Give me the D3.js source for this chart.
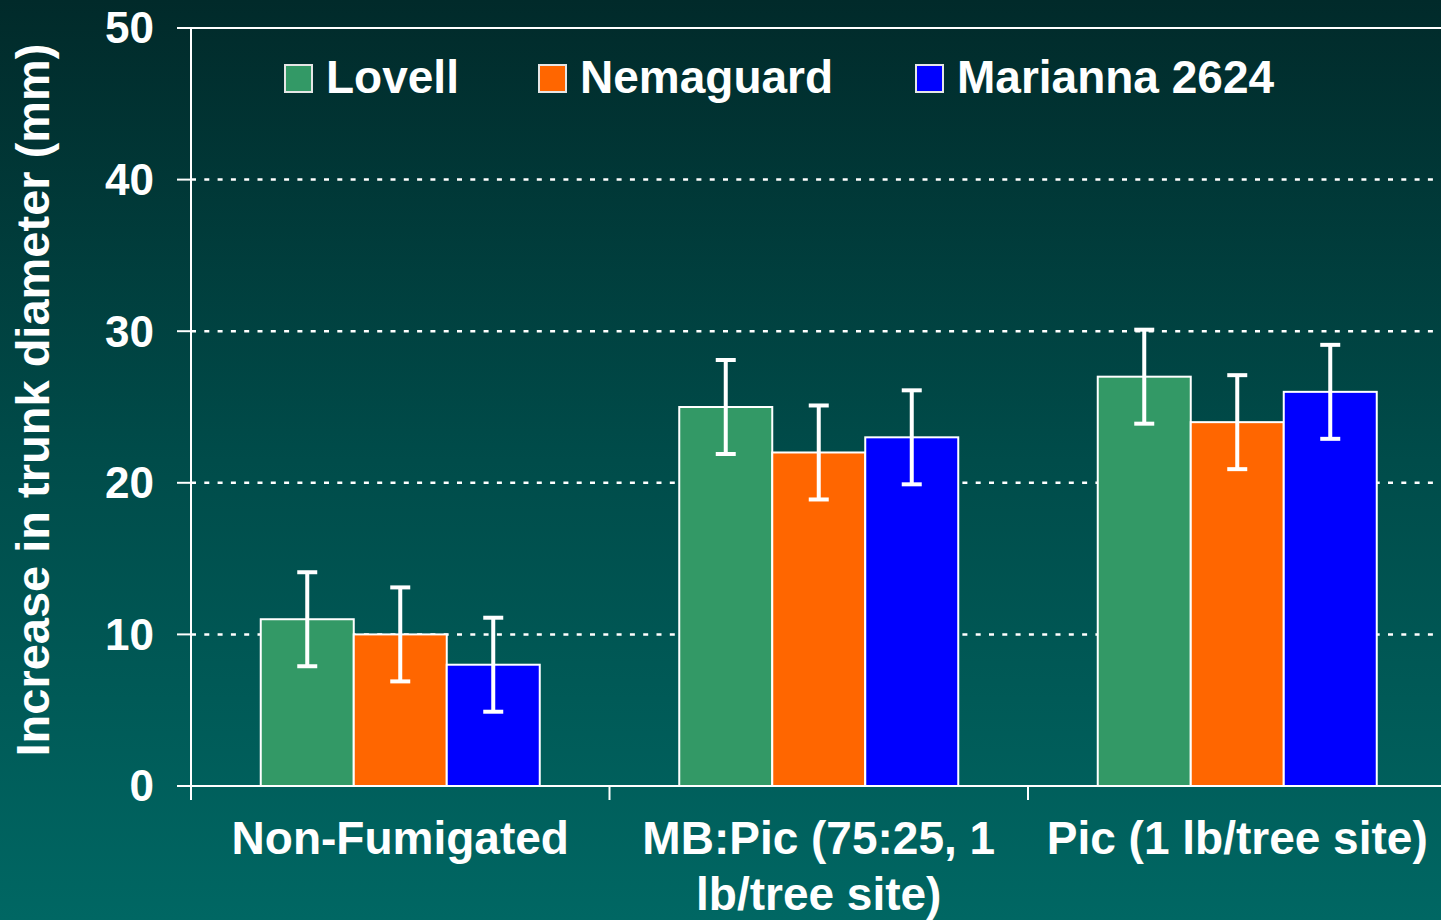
<!DOCTYPE html>
<html>
<head>
<meta charset="utf-8">
<script src="https://cdn.jsdelivr.net/npm/d3@7"></script>
<style>
  html, body { margin: 0; padding: 0; }
  svg { display: block; font-family: Arial, "Liberation Sans", sans-serif; font-weight: bold; }
</style>
</head>
<body>
<svg id="chart" width="1441" height="920"></svg>
<script>
// data
const categories = ["Non-Fumigated", "MB:Pic (75:25, 1 lb/tree site)", "Pic (1 lb/tree site)"];
const categoryLines = [["Non-Fumigated"], ["MB:Pic (75:25, 1", "lb/tree site)"], ["Pic (1 lb/tree site)"]];
const seriesNames = ["Lovell", "Nemaguard", "Marianna 2624"];
const seriesColors = ["#339966", "#ff6600", "#0000ff"];
const lovell = [11, 25, 27];
const nemaguard = [10, 22, 24];
const marianna = [8, 23, 26];
const errors = [3.1, 3.1, 3.1];
const yTicks = [0, 10, 20, 30, 40, 50];

const values = [lovell, nemaguard, marianna];

const svg = d3.select("svg#chart");
const W = 1441, H = 920;

// background gradient
const defs = svg.append("defs");
const grad = defs.append("linearGradient")
    .attr("id", "bg")
    .attr("x1", 0).attr("y1", 0)
    .attr("x2", 0).attr("y2", 1);
grad.append("stop").attr("offset", "0%").attr("stop-color", "#012a2a");
grad.append("stop").attr("offset", "50%").attr("stop-color", "#004c4a");
grad.append("stop").attr("offset", "100%").attr("stop-color", "#006763");
svg.append("rect")
    .attr("width", W).attr("height", H)
    .attr("fill", "url(#bg)");

const plotLeft = 191, plotTop = 28, plotBottom = 786;
const step = 418.5;

const x0 = d3.scaleBand()
    .domain(categories)
    .range([plotLeft, plotLeft + step * categories.length])
    .padding(0);
const x1 = d3.scaleBand()
    .domain(seriesNames)
    .range([0, x0.bandwidth()])
    .paddingInner(0)
    .paddingOuter(0.75);
const y = d3.scaleLinear()
    .domain([0, 50])
    .range([plotBottom, plotTop]);

// gridlines
svg.append("g")
    .selectAll("line")
    .data(yTicks.filter(d => d > 0))
    .enter()
    .append("line")
    .attr("x1", plotLeft)
    .attr("x2", W)
    .attr("y1", d => y(d))
    .attr("y2", d => y(d))
    .attr("stroke", "#fff")
    .attr("stroke-width", d => d === 50 ? 2 : 2.5)
    .attr("stroke-dasharray", d => d === 50 ? null : "5,8.3");

// bars
const rows = [];
categories.forEach((c, i) => {
    seriesNames.forEach((s, j) => {
        rows.push({cat: c, series: s, value: values[j][i], err: errors[i], color: seriesColors[j]});
    });
});

svg.append("g")
    .selectAll("rect")
    .data(rows)
    .enter()
    .append("rect")
    .attr("x", d => x0(d.cat) + x1(d.series))
    .attr("y", d => y(d.value))
    .attr("width", x1.bandwidth())
    .attr("height", d => y(0) - y(d.value))
    .attr("fill", d => d.color)
    .attr("stroke", "#fff")
    .attr("stroke-width", 2);

// error bars
const eb = svg.append("g")
    .attr("stroke", "#fff")
    .attr("stroke-width", 4);
rows.forEach(d => {
    const cx = x0(d.cat) + x1(d.series) + x1.bandwidth() / 2;
    eb.append("line")
        .attr("x1", cx).attr("x2", cx)
        .attr("y1", y(d.value + d.err)).attr("y2", y(d.value - d.err));
    [d.value + d.err, d.value - d.err].forEach(v => {
        eb.append("line")
            .attr("x1", cx - 10).attr("x2", cx + 10)
            .attr("y1", y(v)).attr("y2", y(v));
    });
});

// axes
const axes = svg.append("g")
    .attr("stroke", "#fff")
    .attr("stroke-width", 2);
axes.append("line")
    .attr("x1", plotLeft).attr("x2", plotLeft)
    .attr("y1", plotTop).attr("y2", plotBottom + 14);
axes.append("line")
    .attr("x1", plotLeft - 14).attr("x2", W)
    .attr("y1", plotBottom).attr("y2", plotBottom);
axes.selectAll(".ytick")
    .data(yTicks)
    .enter()
    .append("line")
    .attr("x1", plotLeft - 14).attr("x2", plotLeft)
    .attr("y1", d => y(d)).attr("y2", d => y(d));
axes.selectAll(".xtick")
    .data(categories)
    .enter()
    .append("line")
    .attr("x1", d => x0(d)).attr("x2", d => x0(d))
    .attr("y1", plotBottom).attr("y2", plotBottom + 14);

// y tick labels
svg.append("g")
    .selectAll("text")
    .data(yTicks)
    .enter()
    .append("text")
    .attr("x", 154)
    .attr("y", d => y(d))
    .attr("dy", "0.35em")
    .attr("text-anchor", "end")
    .attr("fill", "#fff")
    .attr("font-size", 44)
    .text(d => d);

// category labels
const catLabels = svg.append("g")
    .selectAll("text")
    .data(categories)
    .enter()
    .append("text")
    .attr("x", d => x0(d) + x0.bandwidth() / 2)
    .attr("y", 854)
    .attr("text-anchor", "middle")
    .attr("fill", "#fff")
    .attr("font-size", 46);
catLabels.selectAll("tspan")
    .data((d, i) => categoryLines[i])
    .enter()
    .append("tspan")
    .attr("x", function() { return this.parentNode.getAttribute("x"); })
    .attr("dy", (d, i) => i === 0 ? 0 : 56)
    .text(d => d);

// y axis title
svg.append("text")
    .attr("transform", "translate(49,400) rotate(-90)")
    .attr("text-anchor", "middle")
    .attr("fill", "#fff")
    .attr("font-size", 47)
    .text("Increase in trunk diameter (mm)");

// legend
const legendX = [285, 539, 916];
const legend = svg.append("g")
    .selectAll("g")
    .data(seriesNames)
    .enter()
    .append("g")
    .attr("transform", (d, i) => `translate(${legendX[i]}, 65)`);
legend.append("rect")
    .attr("width", 27)
    .attr("height", 27)
    .attr("fill", (d, i) => seriesColors[i])
    .attr("stroke", "#e6e6e6")
    .attr("stroke-width", 2);
legend.append("text")
    .attr("x", 41)
    .attr("y", 28)
    .attr("fill", "#fff")
    .attr("font-size", 46)
    .text(d => d);
</script>
</body>
</html>
